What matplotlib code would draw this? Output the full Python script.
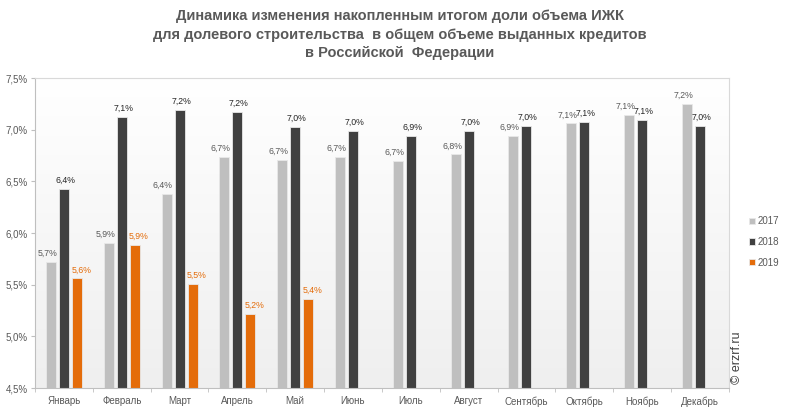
import matplotlib.pyplot as plt
import numpy as np
from matplotlib import font_manager

# данные
months = ['Январь', 'Февраль', 'Март', 'Апрель', 'Май', 'Июнь',
          'Июль', 'Август', 'Сентябрь', 'Октябрь', 'Ноябрь', 'Декабрь']
years = ['2017', '2018', '2019']
v2017 = [5.72, 5.90, 6.38, 6.74, 6.71, 6.74, 6.70, 6.76, 6.94, 7.06, 7.14, 7.25]
v2018 = [6.43, 7.12, 7.19, 7.17, 7.03, 6.99, 6.94, 6.99, 7.04, 7.07, 7.09, 7.04]
v2019 = [5.56, 5.88, 5.51, 5.22, 5.36]

title = ('Динамика изменения накопленным итогом доли объема ИЖК\n'
         'для долевого строительства  в общем объеме выданных кредитов\n'
         'в Российской  Федерации')

names = {f.name for f in font_manager.fontManager.ttflist}
narrow = 'Liberation Sans Narrow' if 'Liberation Sans Narrow' in names else 'Liberation Sans'
plt.rcParams['font.family'] = ['Liberation Sans', 'DejaVu Sans']

colors = ['#bfbfbf', '#404040', '#e46c0a']
label_colors = ['#595959', '#262626', '#e46c0a']
label_shift = [-2.6, 1.1, 3.0]  # сдвиг подписей, пт

fig = plt.figure(figsize=(7.92, 4.15), dpi=100)
ax = fig.add_axes([0.0442, 0.065, 0.876, 0.747])

# фон с градиентом
grad = np.linspace(0, 1, 256).reshape(-1, 1)
ax.imshow(grad, extent=[0, 1, 0, 1], transform=ax.transAxes, aspect='auto',
          cmap=plt.matplotlib.colors.LinearSegmentedColormap.from_list('g', ['#efefef', '#ffffff']),
          origin='lower', zorder=0)

x = np.arange(len(months))
w = 0.173
step = 0.225
series = [v2017, v2018, v2019]
for i, vals in enumerate(series):
    xs = x[:len(vals)] + (i - 1) * step
    ax.bar(xs, np.array(vals) - 4.5, bottom=4.5, width=w, color=colors[i],
           edgecolor='#e8e8e8', linewidth=0.6, zorder=2, label=years[i])
    for xi, v in zip(xs, vals):
        ax.annotate(f'{v:.1f}%'.replace('.', ','), (xi, v), xytext=(label_shift[i], 3),
                    textcoords='offset points', ha='center', va='bottom',
                    fontsize=6.3, color=label_colors[i], zorder=3)

ax.set_xlim(-0.5, len(months) - 0.5)
ax.set_ylim(4.5, 7.5)
yt = np.arange(4.5, 7.51, 0.5)
ax.set_yticks(yt)
ax.set_yticklabels([f'{t:.1f}%'.replace('.', ',') for t in yt], fontsize=7, color='#595959')
ax.set_xticks(x)
ax.set_xticklabels(months, fontsize=7, color='#595959')
ax.set_xticks(np.arange(-0.5, len(months), 1), minor=True)
ax.tick_params(axis='x', which='major', length=0, pad=6)
ax.tick_params(axis='x', which='minor', length=3, color='#bfbfbf')
ax.tick_params(axis='y', length=3, color='#bfbfbf', pad=2)
for s in ['left', 'bottom']:
    ax.spines[s].set_color('#bfbfbf')
for s in ['top', 'right']:
    ax.spines[s].set_color('#d9d9d9')
    ax.spines[s].set_linewidth(0.8)

fig.text(0.505, 0.978, title, ha='center', va='top', fontsize=10.5,
         fontweight='bold', color='#595959', family=[narrow, 'DejaVu Sans'],
         linespacing=1.4)

leg = fig.legend(loc='upper left', bbox_to_anchor=(0.935, 0.50), frameon=False,
                 fontsize=7, handlelength=0.6, handleheight=0.6, handletextpad=0.3,
                 labelspacing=1.1, labelcolor='#595959')

fig.text(0.93, 0.075, '© erzrf.ru', rotation=90, ha='center', va='bottom',
         fontsize=9, color='#404040')

fig.savefig('out.png', dpi=100)
